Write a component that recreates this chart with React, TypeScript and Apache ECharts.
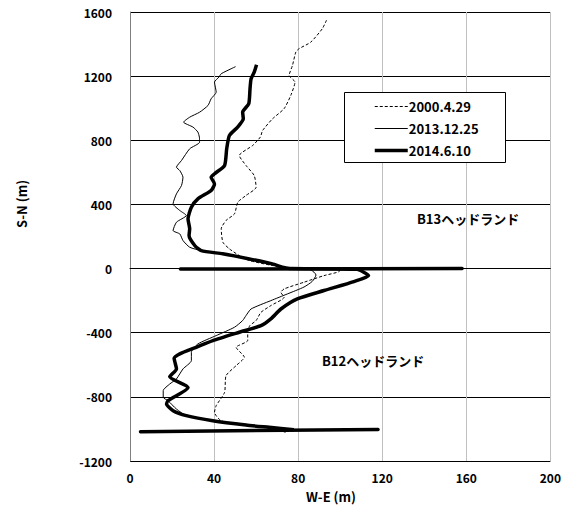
import React, { useEffect, useRef } from "react";
import * as echarts from "echarts";

const xTicks = [0, 40, 80, 120, 160, 200];
const yTicks = [-1200, -800, -400, 0, 400, 800, 1200, 1600];

const seriesNames = ["2000.4.29", "2013.12.25", "2014.6.10"];

// [W-E (m), S-N (m)]
const line2000: number[][] = [
  [93.5, 1549], [91.5, 1496], [86, 1412], [80.4, 1371], [78.9, 1350], [77.3, 1267], [75.7, 1204],
  [78.5, 1163], [76.5, 1080], [73.3, 997], [67.8, 934], [63.1, 861], [62, 820], [58.4, 768],
  [52, 705], [55.2, 643], [59.1, 580], [60, 507], [55.2, 456], [51.3, 414], [49.7, 341],
  [45.7, 300], [43.4, 248], [44.2, 164], [47.3, 123], [52, 81], [56.8, 50], [67.7, 19], [75, 2],
  [100, -5], [99.4, -20], [92.3, -44], [82.8, -85], [73.3, -127], [71.8, -148], [73.3, -179],
  [67, -231], [62.3, -273], [60, -324], [57, -356], [56, -397], [56, -449], [50.5, -491],
  [54.4, -553], [50.5, -605], [45.7, -668], [45, -772], [41, -855], [40.2, -897], [43.4, -949],
  [55.2, -980], [70, -1000], [74, -1010],
];

const line2013: number[][] = [
  [50.2, 1259], [48.1, 1246], [43.4, 1215], [42.3, 1194], [40.2, 1163], [41, 1100], [38.6, 1059],
  [37.1, 1017], [33.1, 975], [28.4, 944], [25.5, 913], [30, 882], [32.3, 851], [33, 820],
  [33.1, 788], [28.4, 747], [24.5, 674], [22.1, 632], [23.7, 611], [25.2, 570], [24.5, 518],
  [22.1, 466], [20.5, 404], [23.7, 362], [26.8, 331], [22.1, 289], [20.5, 237], [23.7, 216],
  [25.2, 175], [28.4, 133], [33.9, 112], [44.1, 92], [56.8, 60], [67.8, 29], [75, 3],
  [86, -8], [88.5, -40], [86.7, -80], [82.8, -115], [74.9, -158], [67, -200], [57.6, -252],
  [55.2, -293], [53.6, -324], [49.7, -366], [41, -418], [32.3, -470], [29.2, -522], [29.2, -574],
  [25.2, -626], [22.1, -688], [18.9, -720], [15.8, -761], [15.8, -803], [18.1, -824],
  [22.1, -876], [26.8, -917], [39.4, -949], [55.2, -976], [66.2, -990], [74, -1021],
];

const line2014: number[][] = [
  [60.2, 1271], [59.1, 1225], [57.6, 1183], [57.1, 1121], [56.5, 1028], [53.6, 975], [53.9, 934],
  [51.2, 882], [47.3, 830], [46, 747], [45, 643], [40.2, 591], [38.6, 570], [40.2, 528],
  [38.6, 487], [32.3, 435], [29.2, 383], [27.6, 310], [28.4, 248], [28.1, 206], [30.8, 144],
  [33.9, 112], [44.1, 92], [56.8, 60], [67.8, 29], [72.5, 8], [76, 1],
  [108, -5], [113.5, -45], [106.5, -81], [92.3, -137], [79.6, -189], [71.8, -252], [67, -314],
  [62.3, -356], [52, -397], [39.4, -449], [31.5, -491], [23.7, -532], [21, -560], [22.1, -626],
  [18.9, -675], [27.6, -741], [18.1, -824], [17.4, -845], [20.5, -886], [26.8, -917],
  [39.4, -949], [55.2, -976], [66.2, -990], [78, -1005],
];

// headland (groyne) lines
const groyneB13: number[][] = [[24, -3], [158, 1]];
const groyneB12: number[][] = [[5, -1017], [118, -1003]];

const annotations = [
  { text: "B13ヘッドランド", left: 417, top: 212 },
  { text: "B12ヘッドランド", left: 322, top: 354 },
];

const FONT = '"Noto Sans CJK JP", "Noto Sans", sans-serif';

export default function App() {
  const ref = useRef<HTMLDivElement>(null);
  useEffect(() => {
    if (!ref.current) return;
    const chart = echarts.init(ref.current, undefined, { renderer: "svg" });
    const thick = { color: "#000", width: 3.5, type: "solid" as const };
    const hiddenItem = { color: "rgba(0,0,0,0)", borderWidth: 0, opacity: 0 };
    chart.setOption({
      animation: false,
      backgroundColor: "#fff",
      textStyle: { fontFamily: FONT },
      grid: { left: 130, top: 12, right: 12, bottom: 46, containLabel: false },
      xAxis: {
        type: "value",
        min: xTicks[0],
        max: xTicks[xTicks.length - 1],
        interval: 40,
        axisLine: { show: true, lineStyle: { color: "#000", width: 1 } },
        axisTick: { show: false },
        splitLine: { show: true, lineStyle: { color: "#c0c0c0", width: 1 } },
        axisLabel: {
          color: "#000", fontWeight: "bold", fontSize: 12, fontFamily: FONT, margin: 10,
          formatter: (v: number) => String(v),
        },
      },
      yAxis: {
        type: "value",
        min: yTicks[0],
        max: yTicks[yTicks.length - 1],
        interval: 400,
        axisLine: { show: true, lineStyle: { color: "#808080", width: 1 } },
        axisTick: { show: false },
        splitLine: { show: true, lineStyle: { color: "#000", width: 1 } },
        axisLabel: {
          color: "#000", fontWeight: "bold", fontSize: 12, fontFamily: FONT, margin: 18,
          formatter: (v: number) => String(v),
        },
      },
      legend: {
        data: seriesNames,
        orient: "vertical",
        left: 344,
        top: 92,
        padding: [8, 10, 8, 29],
        itemGap: 9,
        itemWidth: 33,
        itemHeight: 14,
        backgroundColor: "rgba(0,0,0,0)",
        borderWidth: 0,
        z: 20,
        itemStyle: hiddenItem,
        lineStyle: { width: "inherit", type: "inherit", color: "inherit" },
        textStyle: { color: "#000", fontWeight: "bold", fontSize: 13, fontFamily: FONT, padding: [0, 0, 0, -4] },
      },
      series: [
        {
          name: seriesNames[0],
          type: "line",
          data: line2000,
          symbol: "none",
          smooth: 0.2,
          lineStyle: { color: "#000", width: 1, type: [3, 2] },
          itemStyle: hiddenItem,
          z: 3,
        },
        {
          name: seriesNames[1],
          type: "line",
          data: line2013,
          symbol: "none",
          smooth: 0.2,
          lineStyle: { color: "#000", width: 1, type: "solid" },
          itemStyle: hiddenItem,
          z: 3,
        },
        {
          name: seriesNames[2],
          type: "line",
          data: line2014,
          symbol: "none",
          smooth: 0.2,
          lineStyle: thick,
          itemStyle: hiddenItem,
          z: 4,
        },
        {
          name: "groyneB13",
          type: "line",
          data: groyneB13,
          symbol: "none",
          lineStyle: { ...thick, cap: "round" },
          z: 5,
        },
        {
          name: "groyneB12",
          type: "line",
          data: groyneB12,
          symbol: "none",
          lineStyle: { ...thick, cap: "round" },
          z: 5,
        },
      ],
      graphic: [
        {
          type: "rect",
          z: 10,
          shape: { x: 344.5, y: 92.5, width: 161, height: 70 },
          style: { fill: "#fff", stroke: "#000", lineWidth: 1 },
        },
        ...annotations.map((a) => ({
          type: "text",
          left: a.left,
          top: a.top,
          z: 10,
          style: { text: a.text, font: `bold 13px ${FONT}`, fill: "#000" },
        })),
        {
          type: "text",
          x: 331,
          y: 496,
          style: { text: "W-E (m)", font: `bold 13px ${FONT}`, fill: "#000", textAlign: "center", textVerticalAlign: "middle" },
        },
        {
          type: "text",
          x: 21,
          y: 204,
          rotation: Math.PI / 2,
          style: { text: "S-N (m)", font: `bold 13px ${FONT}`, fill: "#000", textAlign: "center", textVerticalAlign: "middle" },
        },
      ],
    });
    return () => chart.dispose();
  }, []);
  return (
    <div
      ref={ref}
      style={{ position: "fixed", left: 0, top: 0, width: 564, height: 507, background: "#fff" }}
    />
  );
}
